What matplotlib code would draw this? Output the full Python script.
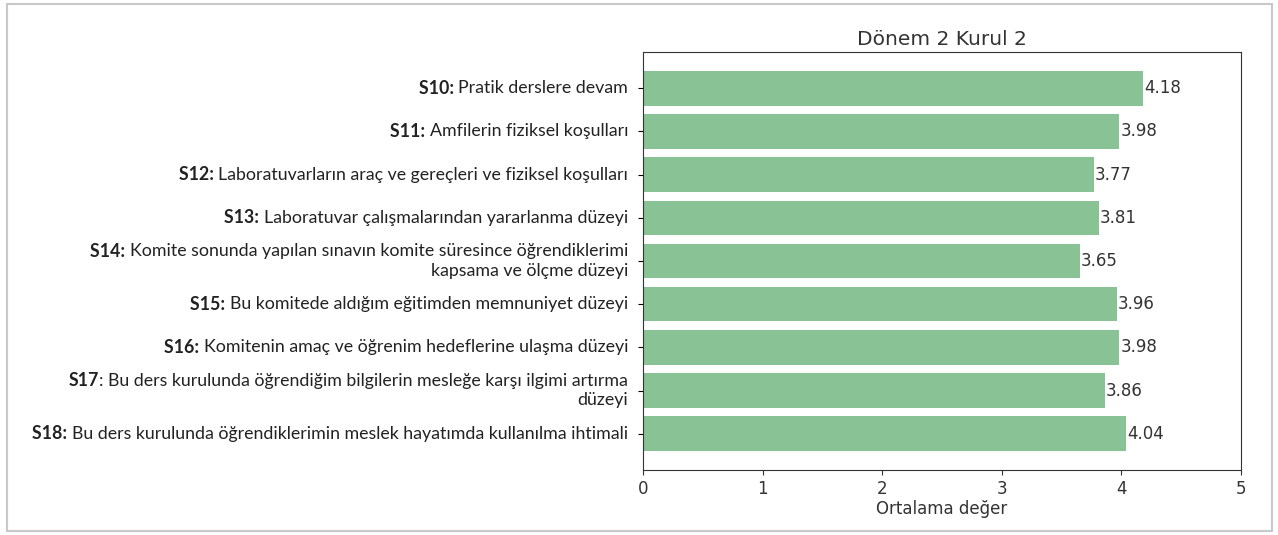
import matplotlib
matplotlib.use("Agg")
import matplotlib.pyplot as plt
from matplotlib.patches import Rectangle

# Data (S17 has its colon in regular weight in the original)
codes = ["S10:", "S11:", "S12:", "S13:", "S14:", "S15:", "S16:", "S17", "S18:"]
texts = [
    ["Pratik derslere devam"],
    ["Amfilerin fiziksel koşulları"],
    ["Laboratuvarların araç ve gereçleri ve fiziksel koşulları"],
    ["Laboratuvar çalışmalarından yararlanma düzeyi"],
    ["Komite sonunda yapılan sınavın komite süresince öğrendiklerimi", "kapsama ve ölçme düzeyi"],
    ["Bu komitede aldığım eğitimden memnuniyet düzeyi"],
    ["Komitenin amaç ve öğrenim hedeflerine ulaşma düzeyi"],
    [": Bu ders kurulunda öğrendiğim bilgilerin mesleğe karşı ilgimi artırma", "düzeyi"],
    ["Bu ders kurulunda öğrendiklerimin meslek hayatımda kullanılma ihtimali"],
]
values = [4.18, 3.98, 3.77, 3.81, 3.65, 3.96, 3.98, 3.86, 4.04]

bar_color = "#88c295"
label_font = ["Lato", "DejaVu Sans"]
label_size = 12.8

fig = plt.figure(figsize=(12.78, 5.35), dpi=100)
ax = fig.add_axes([643 / 1278, 1 - 470 / 535, (1241 - 643) / 1278, (470 - 52) / 535])

y = list(range(len(values)))
ax.barh(y, values, height=0.8, color=bar_color)
ax.invert_yaxis()
ax.set_xlim(0, 5)
ax.set_xticks([0, 1, 2, 3, 4, 5])
ax.tick_params(axis="x", labelsize=12, colors="#333333")
ax.set_yticks(y)
ax.set_yticklabels([""] * len(y))
for s in ax.spines.values():
    s.set_color("#333333")

# Value labels at the end of each bar
for yi, v in zip(y, values):
    ax.text(v + 0.01, yi, f"{v:.2f}", va="center", ha="left", fontsize=12, color="#333333")

ax.set_title("Dönem 2 Kurul 2", fontsize=14.5, color="#333333", pad=5)
ax.set_xlabel("Ortalama değer", fontsize=12, color="#333333", labelpad=2)

# Category labels: bold code + regular text, right aligned next to the ticks
line_h = 0.45
for yi, code, lines in zip(y, codes, texts):
    n = len(lines)
    for k, line in enumerate(lines):
        ly = yi + (k - (n - 1) / 2) * line_h
        t = ax.text(-0.125, ly, line, ha="right", va="center", fontsize=label_size,
                    family=label_font, color="#222222")
        if k == 0:
            code_str = code + " " if code.endswith(":") else code
            ax.annotate(code_str, xy=(0, 0.5), xycoords=t, ha="right", va="center",
                        fontsize=label_size, family=label_font, fontweight="bold", color="#222222")

# Screenshot frame
fig.patches.append(Rectangle((7 / 1278, 4 / 535), 1265 / 1278, 527 / 535, transform=fig.transFigure,
                             fill=False, edgecolor="#c8c8c8", linewidth=1.5))

fig.savefig("out.png", dpi=100)
